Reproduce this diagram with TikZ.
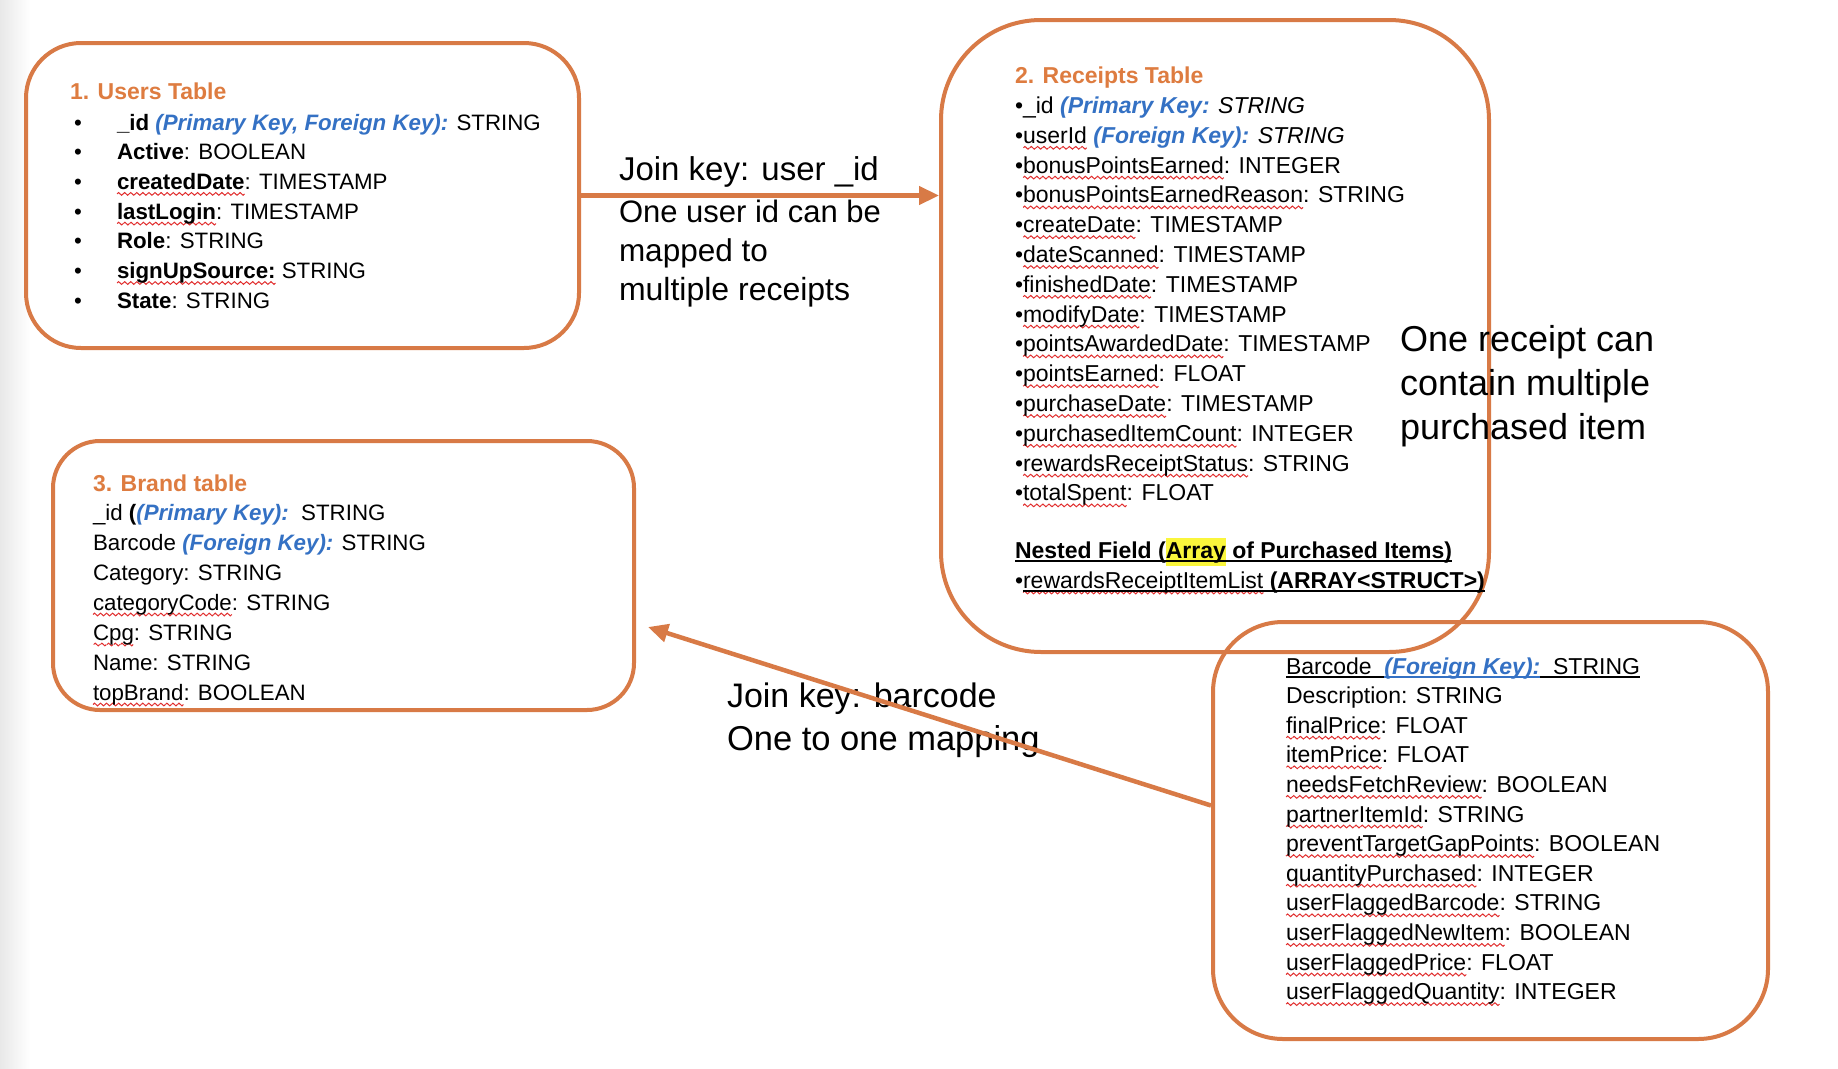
\documentclass[tikz,border=0pt]{standalone}
\usepackage{fontspec}
\setmainfont{Liberation Sans}
\usetikzlibrary{arrows.meta}
\definecolor{orn}{RGB}{216,122,70}
\definecolor{hdr}{RGB}{222,124,64}
\definecolor{kblue}{RGB}{52,113,196}
\definecolor{sqred}{RGB}{225,45,45}
\definecolor{hl}{RGB}{250,246,60}
\setlength{\fboxsep}{0pt}
\newsavebox{\wavebox}
\newsavebox{\sqtmpbox}
\newsavebox{\ultmpbox}
\newcommand{\makewave}{%
  \global\setbox\wavebox=\hbox{\begin{pgfpicture}%
    \pgfpathrectangle{\pgfpoint{0pt}{-2pt}}{\pgfpoint{6pt}{4pt}}%
    \pgfusepath{use as bounding box}%
    \pgfsetcolor{sqred}\pgfsetlinewidth{1pt}%
    \pgfpathmoveto{\pgfpoint{0pt}{0pt}}%
    \pgfpathcurveto{\pgfpoint{1pt}{1.8pt}}{\pgfpoint{2pt}{1.8pt}}{\pgfpoint{3pt}{0pt}}%
    \pgfpathcurveto{\pgfpoint{4pt}{-1.8pt}}{\pgfpoint{5pt}{-1.8pt}}{\pgfpoint{6pt}{0pt}}%
    \pgfusepath{stroke}%
  \end{pgfpicture}}}
\newcommand{\sq}[1]{\leavevmode\sbox{\sqtmpbox}{#1}%
  \rlap{\raisebox{-6.5pt}{\hbox to \wd\sqtmpbox{\xleaders\copy\wavebox\hfil}}}\usebox{\sqtmpbox}}
\newcommand{\ul}[1]{\leavevmode\sbox{\ultmpbox}{#1}\usebox{\ultmpbox}%
  \llap{\rule[-3.5pt]{\wd\ultmpbox}{1.5pt}}}
\newcommand{\kb}[1]{\textcolor{kblue}{\bfseries\itshape #1}}
\tikzset{
  tbl/.style={draw=orn, line width=4pt, inner sep=0pt},
  arr/.style={draw=orn, line width=4.5pt, -{Triangle[length=20pt,width=18pt]}},
  txt/.style={anchor=base west, inner sep=0pt, outer sep=0pt, font=\fontsize{23}{28}\selectfont},
  utxt/.style={txt, font=\fontsize{22.3}{28}\selectfont},
  hdrtxt/.style={txt, font=\fontsize{23}{28}\selectfont\bfseries, text=hdr},
  bigtxt/.style={anchor=base west, inner sep=0pt, outer sep=0pt}
}
\begin{document}
\begin{tikzpicture}[x=1pt,y=-1pt]
\pgfinterruptpicture\makewave\endpgfinterruptpicture
\useasboundingbox (0,0) rectangle (1838,1068);
\fill[white] (0,0) rectangle (1838,1068);
\shade[left color=black!9, right color=white] (0,0) rectangle (30,1068);

% ---------- table boxes ----------
\node[tbl, rounded corners=55pt, minimum width=553pt, minimum height=305pt] (u) at (302.5,195.5) {};
\node[tbl, rounded corners=100pt, minimum width=548pt, minimum height=632pt] (r) at (1215,336) {};
\node[tbl, rounded corners=47pt, minimum width=581pt, minimum height=269pt] (b) at (343.5,575.5) {};
\node[tbl, rounded corners=70pt, minimum width=555pt, minimum height=417pt] (i) at (1490.5,830.5) {};

% ---------- users table ----------
\node[hdrtxt] (uh) at (70,99) {1. Users Table};
\foreach \t [count=\k from 0] in {
  {\textbf{\_id} \kb{(Primary Key, Foreign Key):} STRING},
  {\textbf{Active}: BOOLEAN},
  {\textbf{\sq{createdDate}}: TIMESTAMP},
  {\textbf{\sq{lastLogin}}: TIMESTAMP},
  {\textbf{Role}: STRING},
  {\textbf{\sq{signUpSource:}} STRING},
  {\textbf{State}: STRING}}
{
  \node[utxt] (ub\k) at (74,{130+29.7*\k}) {•};
  \node[utxt] (ul\k) at (117,{130+29.7*\k}) {\t};
}

% ---------- receipts table ----------
\node[hdrtxt] (rh) at (1015,83) {2. Receipts Table};
\foreach \t [count=\k from 0] in {
  {•\_id \kb{(Primary Key:} \textit{STRING}},
  {•\sq{userId} \kb{(Foreign Key):} \textit{STRING}},
  {•\sq{bonusPointsEarned}: INTEGER},
  {•\sq{bonusPointsEarnedReason}: STRING},
  {•\sq{createDate}: TIMESTAMP},
  {•\sq{dateScanned}: TIMESTAMP},
  {•\sq{finishedDate}: TIMESTAMP},
  {•\sq{modifyDate}: TIMESTAMP},
  {•\sq{pointsAwardedDate}: TIMESTAMP},
  {•\sq{pointsEarned}: FLOAT},
  {•\sq{purchaseDate}: TIMESTAMP},
  {•\sq{purchasedItemCount}: INTEGER},
  {•\sq{rewardsReceiptStatus}: STRING},
  {•\sq{totalSpent}: FLOAT}}
{
  \node[txt] (rl\k) at (1015,{113.5+29.8*\k}) {\t};
}
\node[txt, font=\fontsize{23}{28}\selectfont\bfseries] (nf) at (1015,558)
  {\ul{Nested Field (\colorbox{hl}{\strut Array} of Purchased Items)}};
\node[txt] (rlb) at (1015,588) {•};
\node[txt] (rli) at (rlb.base east) {\ul{\sq{rewardsReceiptItemList} \textbf{(ARRAY<STRUCT>)}}};

% ---------- brand table ----------
\node[hdrtxt] (bh) at (93,491) {3. Brand table};
\foreach \t [count=\k from 0] in {
  {\_id \textbf{(}\kb{(Primary Key):}\ \ STRING},
  {Barcode \kb{(Foreign Key):} STRING},
  {Category: STRING},
  {\sq{categoryCode}: STRING},
  {\sq{Cpg}: STRING},
  {Name: STRING},
  {\sq{topBrand}: BOOLEAN}}
{
  \node[utxt] (bl\k) at (93,{520+30*\k}) {\t};
}

% ---------- purchased items ----------
\node[txt] (il0) at (1286,674)
  {\ul{Barcode\ \ }{\color{kblue}\bfseries\itshape\ul{(Foreign Key):}}\ul{\ \ STRING}};
\foreach \t [count=\k from 1] in {
  {Description: STRING},
  {\sq{finalPrice}: FLOAT},
  {\sq{itemPrice}: FLOAT},
  {\sq{needsFetchReview}: BOOLEAN},
  {\sq{partnerItemId}: STRING},
  {\sq{preventTargetGapPoints}: BOOLEAN},
  {\sq{quantityPurchased}: INTEGER},
  {\sq{userFlaggedBarcode}: STRING},
  {\sq{userFlaggedNewItem}: BOOLEAN},
  {\sq{userFlaggedPrice}: FLOAT},
  {\sq{userFlaggedQuantity}: INTEGER}}
{
  \node[txt] (il\k) at (1286,{674+29.6*\k}) {\t};
}

% ---------- relation notes ----------
\node[bigtxt, font=\fontsize{33}{40}\selectfont] (j1) at (619,180) {Join key: user \_id};
\node[bigtxt, font=\fontsize{31}{40}\selectfont] (j2) at (619,222) {One user id can be};
\node[bigtxt, font=\fontsize{31.5}{40}\selectfont] (j3) at (619,261) {mapped to};
\node[bigtxt, font=\fontsize{32}{40}\selectfont] (j4) at (619,300) {multiple receipts};

\node[bigtxt, font=\fontsize{34}{42}\selectfont] (k1) at (727,707) {Join key: barcode};
\node[bigtxt, font=\fontsize{34.5}{42}\selectfont] (k2) at (727,750) {One to one mapping};

\node[bigtxt, font=\fontsize{36}{44}\selectfont] (c1) at (1400,351) {One receipt can};
\node[bigtxt, font=\fontsize{36}{44}\selectfont] (c2) at (1400,395) {contain multiple};
\node[bigtxt, font=\fontsize{36}{44}\selectfont] (c3) at (1400,439) {purchased item};

% ---------- connectors ----------
\draw[arr] (u.east) -- (u.east -| r.west);
\coordinate (bt) at (648,627);
\draw[arr] ([yshift=25pt]i.west) -- (bt);
\end{tikzpicture}
\end{document}
